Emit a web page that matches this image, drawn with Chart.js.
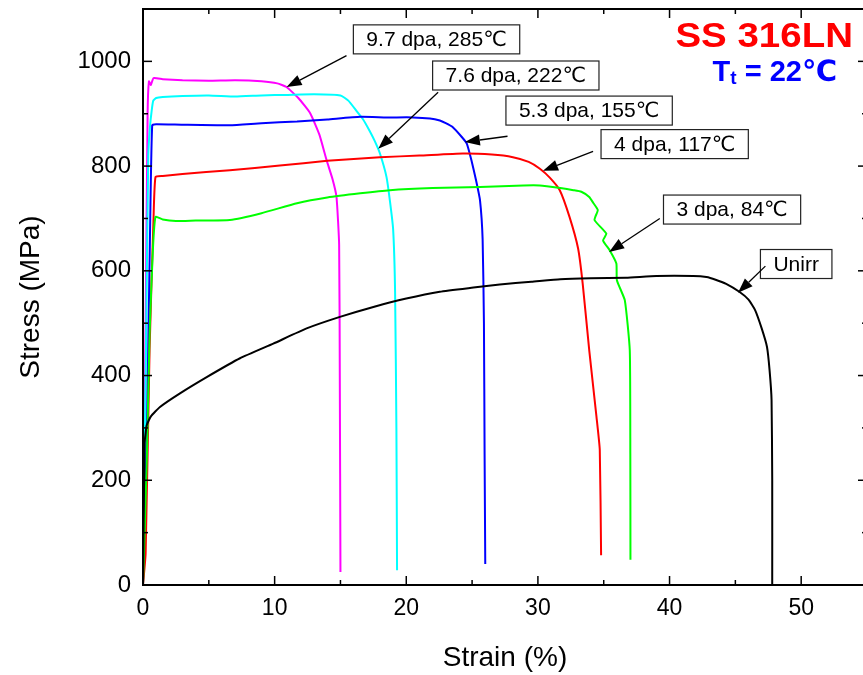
<!DOCTYPE html>
<html><head><meta charset="utf-8">
<script src="https://cdn.jsdelivr.net/npm/chart.js@4.4.1/dist/chart.umd.min.js"></script>
<style>
html,body{margin:0;padding:0;overflow:hidden;background:#fff;width:863px;height:675px}
#wrap{width:863px;height:675px;overflow:hidden;position:relative}
canvas{display:block}
</style></head><body>
<div id="wrap"><canvas id="c" width="880" height="675" style="width:880px;height:675px"></canvas></div>
<script>
// ---- data ----
const unirrStrain = [0, 0.12, 0.28, 0.6, 1.29, 2.81, 4.84, 7.37, 9.9, 12.43, 14.96, 17.5, 20.0, 22.55, 25.1, 27.1, 29.5, 31.7, 34.0, 36.7, 39.0, 41.8, 42.8, 43.5, 44.3, 45.3, 46.0, 46.5, 47.0, 47.4, 47.6, 47.75, 47.8, 47.8];
const unirrStress = [0, 270, 305, 322, 340, 366, 397, 433, 461, 490, 512, 531, 547, 560, 568, 574, 579, 584, 586, 587, 590, 590, 588, 583, 575, 560, 545, 525, 490, 455, 410, 353, 200, 0];

const d3Strain = [0, 0.3, 0.5, 0.75, 0.95, 1.5, 2.5, 4, 6.6, 9, 11.7, 14, 16.5, 18.75, 22, 25.6, 28.9, 30.15, 31.7, 32.7, 33.3, 33.9, 34.2, 34.55, 34.3, 35.2, 34.95, 35.46, 35.96, 36.0, 36.6, 36.98, 37.02, 37.03];
const d3Stress = [0, 250, 480, 640, 703, 698, 695, 696, 697, 710, 729, 740, 748, 754, 758, 760, 763, 763, 758, 754, 751, 741, 730, 716, 697, 671, 658, 639, 614, 582, 544, 448, 250, 48];

const d4Strain = [0, 0.2, 0.5, 0.8, 0.95, 1.5, 3, 6.6, 10.4, 14, 18.0, 21, 24.3, 26.5, 28.1, 29.3, 30.15, 30.9, 31.66, 32.4, 33.05, 33.4, 33.9, 34.45, 34.7, 34.8];
const d4Stress = [0, 60, 450, 700, 779, 781, 785, 792, 801, 810, 817, 820, 824, 822, 817, 808, 795, 778, 754, 703, 643, 576, 448, 321, 258, 57];

const d53Strain = [0, 0.3, 0.55, 0.7, 1.0, 3, 6.6, 9, 11.7, 14, 16.5, 18.5, 20.5, 21.8, 22.55, 23.0, 23.5, 24.2, 24.6, 24.95, 25.3, 25.6, 25.8, 25.9, 25.95, 26.0];
const d53Stress = [0, 300, 700, 878, 880, 879, 878, 882, 885, 889, 894, 893, 893, 891, 887, 882, 875, 856, 843, 811, 773, 735, 660, 500, 250, 40];

const d76Strain = [0, 0.25, 0.4, 0.53, 0.66, 0.78, 1.0, 1.5, 3, 5, 7, 9, 11, 13, 15, 15.6, 16.2, 16.7, 17.2, 17.6, 18.0, 18.5, 18.75, 19.0, 19.15, 19.25, 19.3];
const d76Stress = [0, 500, 820, 875, 906, 925, 930, 932, 934, 935, 933, 935, 936, 937, 935, 925, 906, 890, 868, 848, 824, 779, 735, 680, 560, 300, 28];

const d97Strain = [0, 0.2, 0.35, 0.45, 0.6, 0.8, 1.5, 3, 5, 7, 9, 10.2, 10.9, 11.8, 12.7, 13.4, 13.95, 14.4, 14.7, 14.9, 14.95, 15.0];
const d97Stress = [0, 500, 900, 962, 955, 968, 966, 964, 963, 964, 962, 958, 951, 930, 901, 860, 811, 775, 741, 650, 400, 25];

const seriesNames = ['Unirr', '3 dpa, 84℃', '4 dpa, 117℃', '5.3 dpa, 155℃', '7.6 dpa, 222℃', '9.7 dpa, 285℃'];
const xMajorTicks = [0, 10, 20, 30, 40, 50];
const xMinorTicks = [5, 15, 25, 35, 45, 55];
const yMajorTicks = [0, 200, 400, 600, 800, 1000];
const yMinorTicks = [100, 300, 500, 700, 900, 1100];

// ---- presentation ----
const colors = ['#000000', '#00ff00', '#ff0000', '#0000ff', '#00ffff', '#ff00ff'];
const strains = [unirrStrain, d3Strain, d4Strain, d53Strain, d76Strain, d97Strain];
const stresses = [unirrStress, d3Stress, d4Stress, d53Stress, d76Stress, d97Stress];

// annotation callouts: [box center, arrow tail, arrow tip] in data units
const callouts = [
  {s: 5, box: [22.3, 1042], tail: [15.46, 1011], tip: [10.91, 951]},
  {s: 4, box: [28.32, 973], tail: [22.42, 941], tip: [17.87, 833]},
  {s: 3, box: [33.89, 906], tail: [27.69, 857], tip: [24.45, 846]},
  {s: 2, box: [40.39, 842], tail: [34.19, 828], tip: [30.39, 791]},
  {s: 1, box: [44.75, 717], tail: [39.26, 700], tip: [35.41, 636]},
  {s: 0, box: [49.62, 613], tail: [47.28, 609], tip: [45.2, 558]}
];

const FONT = '"Liberation Sans", Arial, "DejaVu Sans", sans-serif';

const datasets = seriesNames.map((n, i) => ({
  label: n,
  data: strains[i].map((x, k) => ({x: x, y: stresses[i][k]})),
  borderColor: colors[i],
  backgroundColor: colors[i],
  borderWidth: 2,
  pointRadius: 0,
  tension: 0.15,
  fill: false
}));

const decor = {
  id: 'decor',
  afterDatasetsDraw(chart) {
    const {ctx, chartArea: a, scales: {x, y}} = chart;
    ctx.save();
    ctx.strokeStyle = '#000';
    ctx.lineWidth = 2;
    ctx.strokeRect(a.left, a.top, a.right - a.left, a.bottom - a.top);
    const ln = (x1, y1, x2, y2) => { ctx.beginPath(); ctx.moveTo(x1, y1); ctx.lineTo(x2, y2); ctx.stroke(); };
    ctx.lineWidth = 1.5;
    const xt = (v, L) => { const p = x.getPixelForValue(v); ln(p, a.bottom, p, a.bottom - L); ln(p, a.top, p, a.top + L); };
    const yt = (v, L) => { const p = y.getPixelForValue(v); ln(a.left, p, a.left + L, p); ln(a.right, p, a.right - L, p); };
    xMajorTicks.forEach(v => xt(v, 9)); xMinorTicks.forEach(v => xt(v, 5));
    yMajorTicks.forEach(v => yt(v, 9)); yMinorTicks.forEach(v => yt(v, 5));

    // callouts
    ctx.font = '21px ' + FONT;
    ctx.textBaseline = 'middle';
    ctx.textAlign = 'center';
    callouts.forEach(c => {
      const txt = seriesNames[c.s];
      const cx = x.getPixelForValue(c.box[0]), cy = y.getPixelForValue(c.box[1]);
      const w = ctx.measureText(txt).width + 26, h = 29;
      ctx.fillStyle = '#fff';
      ctx.fillRect(cx - w / 2, cy - h / 2, w, h);
      ctx.strokeStyle = '#222'; ctx.lineWidth = 1.2;
      ctx.strokeRect(cx - w / 2, cy - h / 2, w, h);
      ctx.fillStyle = '#000';
      ctx.fillText(txt, cx, cy + 1);
      const tx = x.getPixelForValue(c.tail[0]), ty = y.getPixelForValue(c.tail[1]);
      const px = x.getPixelForValue(c.tip[0]), py = y.getPixelForValue(c.tip[1]);
      const ang = Math.atan2(py - ty, px - tx);
      const hl = 15, hw = 5.5;
      const bx = px - hl * Math.cos(ang), by = py - hl * Math.sin(ang);
      ctx.strokeStyle = '#000'; ctx.lineWidth = 1.3;
      ln(tx, ty, bx, by);
      ctx.beginPath();
      ctx.moveTo(px, py);
      ctx.lineTo(bx + hw * Math.sin(ang), by - hw * Math.cos(ang));
      ctx.lineTo(bx - hw * Math.sin(ang), by + hw * Math.cos(ang));
      ctx.closePath(); ctx.fill();
    });

    // material / test temperature text
    ctx.textBaseline = 'alphabetic';
    ctx.textAlign = 'right';
    ctx.fillStyle = '#ff0000';
    ctx.font = 'bold 35px ' + FONT;
    ctx.save();
    ctx.translate(853, 47);
    ctx.scale(1.1, 1);
    ctx.fillText('SS 316LN', 0, 0);
    ctx.restore();
    ctx.fillStyle = '#0000ff';
    ctx.font = 'bold 29px ' + FONT;
    const rest = ' = 22℃';
    const rw = ctx.measureText(rest).width;
    ctx.fillText(rest, 837, 81);
    ctx.font = 'bold 19px ' + FONT;
    const sw = ctx.measureText('t').width;
    ctx.fillText('t', 837 - rw, 84);
    ctx.font = 'bold 29px ' + FONT;
    ctx.fillText('T', 837 - rw - sw, 81);
    ctx.restore();
  }
};

new Chart(document.getElementById('c'), {
  type: 'line',
  data: {datasets},
  options: {
    responsive: false,
    animation: false,
    devicePixelRatio: 1,
    layout: {padding: {left: 0, right: 13, top: 9, bottom: 0}},
    plugins: {legend: {display: false}, tooltip: {enabled: false}},
    scales: {
      x: {
        type: 'linear', min: 0, max: 55,
        grid: {display: false, drawTicks: false},
        border: {display: false},
        afterBuildTicks: s => { s.ticks = xMajorTicks.map(v => ({value: v})); },
        afterFit: s => { s.height = 90; s.paddingLeft = 0; s.paddingRight = 0; },
        ticks: {color: '#000', font: {family: FONT, size: 23}, padding: 10, maxRotation: 0, callback: v => String(v)},
        title: {display: true, text: 'Strain (%)', color: '#000', font: {family: FONT, size: 28}, padding: {top: 0, bottom: 0}}
      },
      y: {
        type: 'linear', min: 0, max: 1100,
        grid: {display: false, drawTicks: false},
        border: {display: false},
        afterBuildTicks: s => { s.ticks = yMajorTicks.map(v => ({value: v})); },
        afterFit: s => { s.width = 143; s.paddingTop = 0; s.paddingBottom = 0; },
        ticks: {color: '#000', font: {family: FONT, size: 24}, padding: 12, callback: v => String(v)},
        title: {display: true, text: 'Stress (MPa)', color: '#000', font: {family: FONT, size: 28}, padding: {top: 14, bottom: 0}}
      }
    }
  },
  plugins: [decor]
});
</script>
</body></html>
